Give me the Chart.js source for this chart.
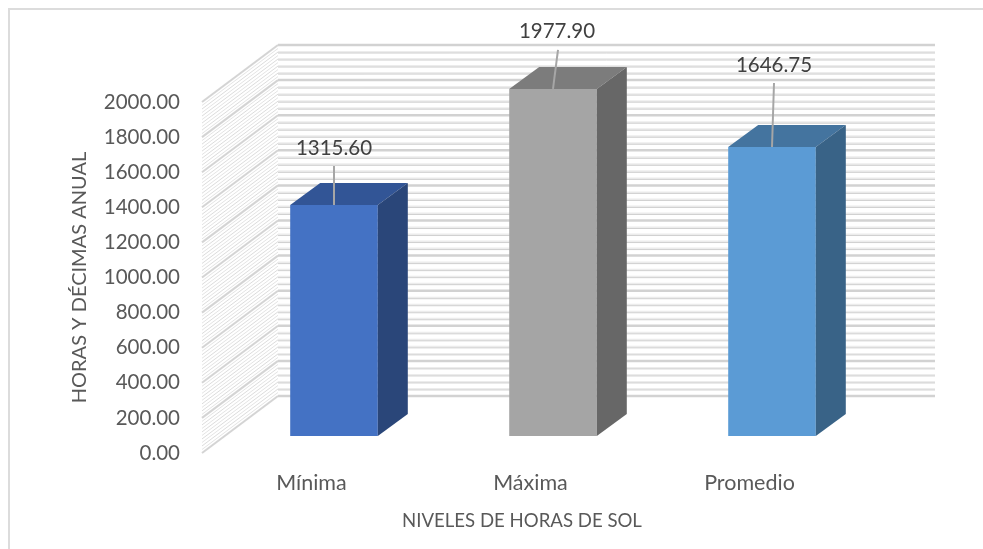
<!DOCTYPE html>
<html>
<head>
<meta charset="utf-8">
<style>html,body{margin:0;padding:0;background:#fff}canvas{display:block}</style>
<script src="https://cdn.jsdelivr.net/npm/chart.js@4"></script>
</head>
<body>
<canvas id="c" width="983" height="549"></canvas>
<script>
const categories = ['Mínima', 'Máxima', 'Promedio'];
const horas = [1315.60, 1977.90, 1646.75];
const frontColors = ['#4472c4', '#a5a5a5', '#5b9bd5'];
const topColors = ['#325596', '#7c7c7c', '#44749f'];
const sideColors = ['#2a4679', '#676767', '#396387'];
const axisMax = 2000;
const majorStep = 200;
const wallStep = 40;
const sideHatchStep = 20;
const yTitle = 'HORAS Y DÉCIMAS ANUAL';
const xTitle = 'NIVELES DE HORAS DE SOL';
const FONT = 'Lato, Carlito, sans-serif';

const wall = {dx: 76, dy: -57};      // depth of the back wall
const barShift = {dx: 22.5, dy: -17}; // where the bars stand on the floor
const barDepth = {dx: 30, dy: -22};
const labelPlace = [{x: 0, y: -57, lx: 0, ly: -39}, {x: 4, y: -57, lx: 5, ly: -39}, {x: 2, y: -82, lx: 2, ly: -64}];

const scene3d = {
  id: 'scene3d',
  beforeDraw(chart) {
    const {ctx} = chart;
    ctx.save();
    ctx.fillStyle = '#fff';
    ctx.fillRect(0, 0, chart.width, chart.height);
    ctx.strokeStyle = '#dcdcdc';
    ctx.lineWidth = 2;
    ctx.strokeRect(9, 9, 2000, 2000);
    ctx.restore();
  },
  beforeDatasetsDraw(chart) {
    const {ctx, chartArea: a} = chart;
    const y = chart.scales.y;
    ctx.save();
    // fine hatch on the side wall
    for (let v = 0; v <= axisMax; v += sideHatchStep) {
      const p = y.getPixelForValue(v);
      const major = v % majorStep === 0;
      const mid = v % wallStep === 0;
      ctx.strokeStyle = major ? '#d4d4d4' : mid ? '#dcdcdc' : '#e4e4e4';
      ctx.lineWidth = major ? 2 : 1;
      ctx.beginPath();
      ctx.moveTo(a.left, p);
      ctx.lineTo(a.left + wall.dx, p + wall.dy);
      ctx.stroke();
    }
    // back wall lines
    for (let v = 0; v <= axisMax; v += wallStep) {
      const p = y.getPixelForValue(v) + wall.dy;
      const major = v % majorStep === 0;
      ctx.strokeStyle = major ? '#d2d2d2' : '#ececec';
      ctx.lineWidth = major ? 2.5 : 2;
      ctx.beginPath();
      ctx.moveTo(a.left + wall.dx, p);
      ctx.lineTo(a.right + wall.dx, p);
      ctx.stroke();
      if (!major) {
        ctx.strokeStyle = '#d0d0d0';
        ctx.lineWidth = 1;
        ctx.beginPath();
        ctx.moveTo(a.left + wall.dx, p + 1);
        ctx.lineTo(a.right + wall.dx, p + 1);
        ctx.stroke();
      }
    }
    ctx.restore();
    ctx.save();
    ctx.translate(barShift.dx, barShift.dy);
  },
  afterDatasetsDraw(chart) {
    const {ctx} = chart;
    const bars = chart.getDatasetMeta(0).data;
    bars.forEach((b, i) => {
      const w = b.width / 2, l = b.x - w, r = b.x + w, t = b.y, bt = b.base;
      ctx.fillStyle = topColors[i];
      ctx.beginPath();
      ctx.moveTo(l, t);
      ctx.lineTo(l + barDepth.dx, t + barDepth.dy);
      ctx.lineTo(r + barDepth.dx, t + barDepth.dy);
      ctx.lineTo(r, t);
      ctx.closePath();
      ctx.fill();
      ctx.fillStyle = sideColors[i];
      ctx.beginPath();
      ctx.moveTo(r, t);
      ctx.lineTo(r + barDepth.dx, t + barDepth.dy);
      ctx.lineTo(r + barDepth.dx, bt + barDepth.dy);
      ctx.lineTo(r, bt);
      ctx.closePath();
      ctx.fill();
      const pl = labelPlace[i];
      ctx.strokeStyle = '#a6a6a6';
      ctx.lineWidth = 2;
      ctx.beginPath();
      ctx.moveTo(b.x, t);
      ctx.lineTo(b.x + pl.lx, t + pl.ly);
      ctx.stroke();
      ctx.fillStyle = '#404040';
      ctx.font = '20.5px ' + FONT;
      ctx.textAlign = 'center';
      ctx.textBaseline = 'middle';
      ctx.fillText(horas[i].toFixed(2), b.x + pl.x, t + pl.y);
    });
    ctx.restore();
    // x axis title, set left of the plot centre as in the reference
    ctx.save();
    ctx.fillStyle = '#595959';
    ctx.font = '18.6px ' + FONT;
    ctx.textAlign = 'center';
    ctx.textBaseline = 'middle';
    ctx.fillText(xTitle, 522, 521);
    ctx.restore();
  }
};

new Chart(document.getElementById('c'), {
  type: 'bar',
  data: {
    labels: categories,
    datasets: [{
      data: horas,
      backgroundColor: frontColors,
      categoryPercentage: 1,
      barPercentage: 0.4,
      clip: false
    }]
  },
  plugins: [scene3d],
  options: {
    responsive: false,
    animation: false,
    layout: {padding: {top: 102, right: 124, left: 0, bottom: 0}},
    plugins: {legend: {display: false}, tooltip: {enabled: false}, title: {display: false}},
    scales: {
      x: {
        grid: {display: false},
        border: {display: false},
        afterFit(s) { s.height = 96; },
        ticks: {color: '#595959', font: {family: FONT, size: 21.5}, padding: 9, maxRotation: 0},
        title: {display: false}
      },
      y: {
        min: 0,
        max: axisMax,
        grid: {display: false},
        border: {display: false},
        afterFit(s) { s.width = 202; },
        ticks: {stepSize: majorStep, color: '#595959', font: {family: FONT, size: 20.5}, padding: 14, callback: v => v.toFixed(2)},
        title: {display: true, text: yTitle, color: '#595959', font: {family: FONT, size: 20}, padding: {top: 68, bottom: 0}}
      }
    }
  }
});
</script>
</body>
</html>
